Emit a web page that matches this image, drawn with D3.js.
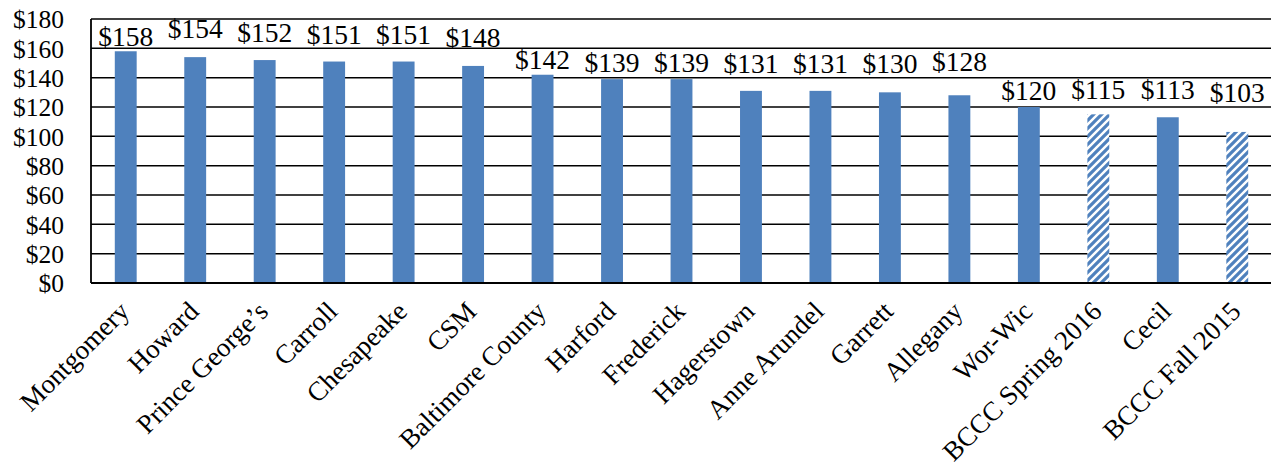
<!DOCTYPE html>
<html><head><meta charset="utf-8">
<script src="https://cdn.jsdelivr.net/npm/d3@7"></script>
<style>body{margin:0;background:#fff}svg{display:block}
svg text{font-family:"Liberation Serif","Times New Roman",serif;}</style>
</head><body>
<script>
const categories = ["Montgomery","Howard","Prince George\u2019s","Carroll","Chesapeake","CSM","Baltimore County","Harford","Frederick","Hagerstown","Anne Arundel","Garrett","Allegany","Wor-Wic","BCCC Spring 2016","Cecil","BCCC Fall 2015"];
const values = [158,154,152,151,151,148,142,139,139,131,131,130,128,120,115,113,103];
const hatched = [false,false,false,false,false,false,false,false,false,false,false,false,false,false,true,false,true];
const yTicks = [0,20,40,60,80,100,120,140,160,180];
// layout: pixel gap between bar top and its value label baseline (labels were hand-placed)
const labelGap = [5,19,18,18,18,19,6,7,7,18,18,19,24,7,15,18,30];

const W = 1271, H = 472;
const m = {left: 91, top: 19, right: 91 + 1181, bottom: 283};
const font = '"Liberation Serif","Times New Roman",serif';
const blue = "#4F81BD";

const svg = d3.select("body").append("svg").attr("width", W).attr("height", H);
const defs = svg.append("defs");
const pat = defs.append("pattern").attr("id","hatch").attr("patternUnits","userSpaceOnUse")
  .attr("width",8).attr("height",8);
pat.append("rect").attr("width",8).attr("height",8).attr("fill","#fff");
pat.append("path").attr("d","M-2,2 L2,-2 M0,8 L8,0 M6,10 L10,6")
  .attr("stroke",blue).attr("stroke-width",3.2);

const x = d3.scaleBand().domain(categories).range([m.left, m.right]).paddingInner(0.685).paddingOuter(0.3425);
const y = d3.scaleLinear().domain([0,180]).range([m.bottom, m.top]);

// gridlines
svg.append("g").selectAll("line").data(yTicks.filter(d => d > 0)).join("line")
  .attr("x1", m.left).attr("x2", m.right)
  .attr("y1", d => y(d)).attr("y2", d => y(d))
  .attr("stroke", "#000").attr("stroke-width", 1.5);

// bars
svg.append("g").selectAll("rect").data(categories).join("rect")
  .attr("x", d => x(d)).attr("width", x.bandwidth())
  .attr("y", (d,i) => y(values[i])).attr("height", (d,i) => y(0) - y(values[i]))
  .attr("fill", (d,i) => hatched[i] ? "url(#hatch)" : blue);

// axes lines
svg.append("line").attr("x1", m.left).attr("x2", m.left).attr("y1", m.top).attr("y2", m.bottom)
  .attr("stroke","#000").attr("stroke-width",1.8);
svg.append("line").attr("x1", m.left).attr("x2", m.right).attr("y1", m.bottom).attr("y2", m.bottom)
  .attr("stroke","#000").attr("stroke-width",2);

// y axis labels
const yAxis = d3.axisLeft(y).tickValues(yTicks).tickSize(0).tickPadding(27).tickFormat(d => "$" + d);
const gy = svg.append("g").attr("transform", `translate(${m.left},0)`).call(yAxis);
gy.attr("font-family", null).attr("font-size", null);
gy.select(".domain").remove();
gy.selectAll("text").style("font-family", font).style("font-size", "25.5px").attr("fill", "#000").attr("dy", "0.34em");

// value labels
const vl = svg.append("g").selectAll("text").data(categories).join("text")
  .attr("x", d => x(d) + x.bandwidth()/2)
  .attr("y", (d,i) => y(values[i]) - labelGap[i])
  .attr("text-anchor", "middle")
  .style("font-family", font).style("font-size", "27.5px").attr("fill", "#000")
  .text((d,i) => "$" + values[i]);
vl.each(function(){
  const bb = this.getBBox();
  if (bb.x < m.left) d3.select(this).attr("x", +d3.select(this).attr("x") + (m.left - bb.x));
});

// x labels
const xAxis = d3.axisBottom(x).tickSize(0).tickPadding(0);
const gx = svg.append("g").attr("transform", `translate(0,${m.bottom})`).call(xAxis);
gx.attr("font-family", null).attr("font-size", null);
gx.select(".domain").remove();
gx.selectAll("text")
  .style("font-family", font).style("font-size", "27px").attr("fill", "#000")
  .attr("text-anchor", "end").attr("dy", 0).attr("y", 0)
  .attr("transform", "translate(5,30) rotate(-45)");
</script>
</body></html>
